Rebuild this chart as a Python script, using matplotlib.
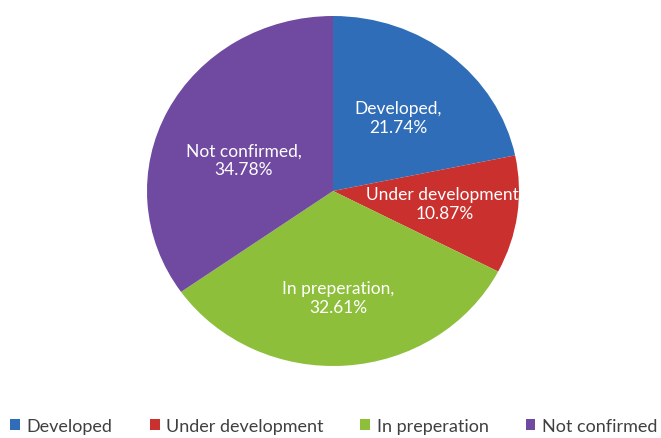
import numpy as np
import matplotlib
matplotlib.use("Agg")
from matplotlib import pyplot as plt

# status of items, share in percent
categories = ["Developed", "Under development", "In preperation", "Not confirmed"]
shares = [21.74, 10.87, 32.61, 34.78]
colors = ["#2F6DB8", "#C9302E", "#8DBF3B", "#7049A0"]

plt.rcParams['font.family'] = ['Lato', 'DejaVu Sans']

fig = plt.figure(figsize=(6.61, 4.39), dpi=100)
# pie is a little wider than tall in the reference
ax = fig.add_axes([147 / 661, 72 / 439, 372 / 661, 350 / 439])

wedges, _ = ax.pie(shares, colors=colors, startangle=90, counterclock=False,
                   radius=1.0, wedgeprops=dict(linewidth=0))
ax.set_aspect('auto')
ax.set_xlim(-1, 1)
ax.set_ylim(-1, 1)
ax.axis('off')

# label placement in axes units (x, y)
label_pos = [(0.35, 0.42), (0.60, -0.07), (0.03, -0.61), (-0.48, 0.18)]
for name, val, (lx, ly) in zip(categories, shares, label_pos):
    ax.text(lx, ly, f"{name},\n{val:.2f}%",
            ha='center', va='center', color='white', fontsize=12.5,
            linespacing=1.2, clip_on=True)

leg = fig.legend(wedges, categories, loc='center', bbox_to_anchor=(0.505, 1 - 427 / 439),
                 ncol=4, frameon=False, fontsize=13, handlelength=0.55,
                 handleheight=0.55, handletextpad=0.35, columnspacing=2.05,
                 labelcolor='#404040', borderaxespad=0, borderpad=0)

fig.savefig("out.png", dpi=100)
